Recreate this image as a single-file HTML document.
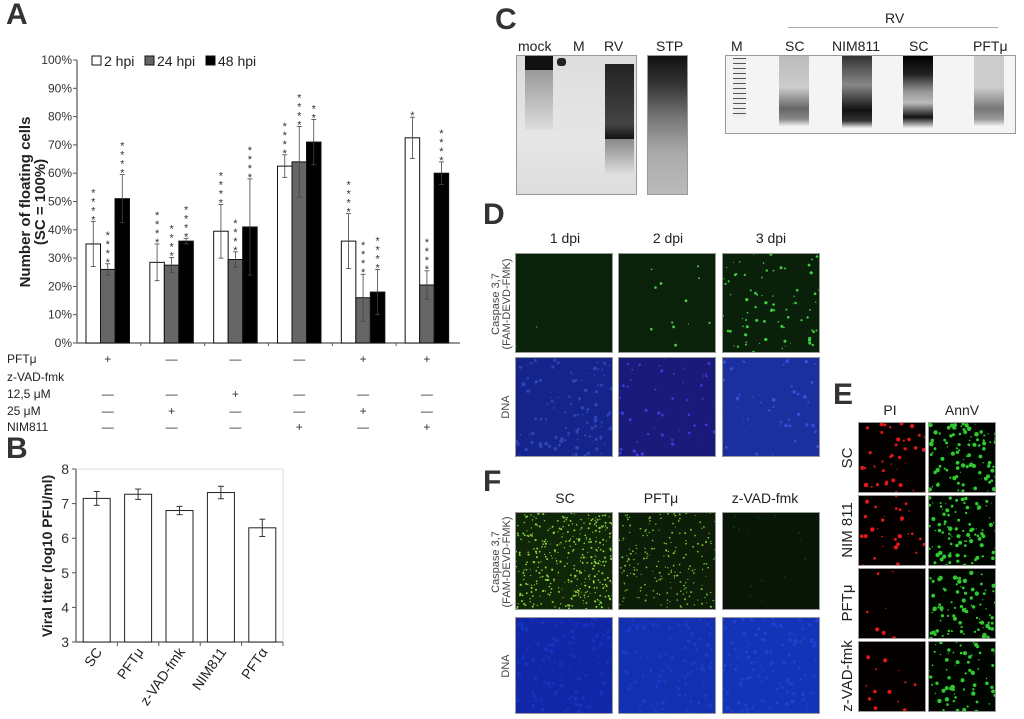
<!DOCTYPE html>
<html><head><meta charset="utf-8"><style>
body{margin:0;width:1024px;height:719px;background:#fff;position:relative;overflow:hidden;font-family:"Liberation Sans",sans-serif;color:#222}
.abs{position:absolute}
.pl{position:absolute;font-weight:bold;font-size:30px;color:#333}
.lbl{position:absolute;font-size:14px;text-align:center;color:#222}
.img{position:absolute;border:1px solid #999;box-sizing:border-box;overflow:hidden}
</style></head><body>
<div class="pl" style="left:6px;top:-2px">A</div>
<div class="pl" style="left:6px;top:432px">B</div>
<div class="pl" style="left:495px;top:3px">C</div>
<div class="pl" style="left:483px;top:198px">D</div>
<div class="pl" style="left:833px;top:378px">E</div>
<div class="pl" style="left:483px;top:465px">F</div>

<svg id="chartA" class="abs" style="left:0;top:0" width="480" height="440"></svg>
<svg id="chartB" class="abs" style="left:0;top:420px" width="300" height="299"></svg>

<!-- Panel C -->
<div class="lbl" style="left:518px;top:38px">mock</div>
<div class="lbl" style="left:573px;top:38px">M</div>
<div class="lbl" style="left:604px;top:38px">RV</div>
<div class="lbl" style="left:656px;top:38px">STP</div>
<div class="img" style="left:516px;top:55px;width:121px;height:140px;background:linear-gradient(#ddd,#e6e6e6 60%,#ddd)">
  <div class="abs" style="left:8px;top:0;width:28px;height:14px;background:#111"></div>
  <div class="abs" style="left:8px;top:14px;width:28px;height:60px;background:linear-gradient(#999,#ddd)"></div>
  <div class="abs" style="left:40px;top:2px;width:9px;height:8px;background:#222;border-radius:3px"></div>
  <div class="abs" style="left:88px;top:8px;width:29px;height:75px;background:linear-gradient(#222,#444 80%,#111)"></div>
  <div class="abs" style="left:88px;top:83px;width:29px;height:35px;background:linear-gradient(#888,#ddd)"></div>
</div>
<div class="img" style="left:647px;top:55px;width:41px;height:140px;background:linear-gradient(#111,#333 20%,#777 45%,#aaa 70%,#bbb)"></div>
<div class="lbl" style="left:885px;top:10px">RV</div>
<div class="abs" style="left:788px;top:27px;width:210px;height:1px;background:#aaa"></div>
<div class="lbl" style="left:731px;top:38px">M</div>
<div class="lbl" style="left:785px;top:38px">SC</div>
<div class="lbl" style="left:832px;top:38px">NIM811</div>
<div class="lbl" style="left:909px;top:38px">SC</div>
<div class="lbl" style="left:973px;top:38px">PFTμ</div>
<div class="img" style="left:725px;top:55px;width:291px;height:79px;background:#f4f4f4">
  <div class="abs" style="left:7px;top:2px;width:13px;height:60px;background:repeating-linear-gradient(#555 0 1px,#eee 1px 5px)"></div>
  <div class="abs" style="left:53px;top:0;width:30px;height:70px;background:linear-gradient(#bbb,#ccc 45%,#666 75%,#888 90%,#eee)"></div>
  <div class="abs" style="left:116px;top:0;width:30px;height:72px;background:linear-gradient(#333,#888 40%,#111 75%,#333 90%,#eee)"></div>
  <div class="abs" style="left:177px;top:0;width:30px;height:72px;background:linear-gradient(#000,#222 25%,#999 50%,#bbb 65%,#111 85%,#eee)"></div>
  <div class="abs" style="left:248px;top:0;width:30px;height:70px;background:linear-gradient(#ccc,#ccc 45%,#777 75%,#999 90%,#eee)"></div>
</div>

<!-- Panel D / F / E labels -->
<div class="lbl" style="left:540px;top:230px;width:50px">1 dpi</div>
<div class="lbl" style="left:643px;top:230px;width:50px">2 dpi</div>
<div class="lbl" style="left:746px;top:230px;width:50px">3 dpi</div>
<div class="lbl" style="left:545px;top:490px;width:40px">SC</div>
<div class="lbl" style="left:641px;top:490px;width:40px">PFTμ</div>
<div class="lbl" style="left:725px;top:490px;width:80px">z-VAD-fmk</div>
<div class="lbl" style="left:870px;top:402px;width:40px">PI</div>
<div class="lbl" style="left:940px;top:402px;width:44px">AnnV</div>

<div id="imgs"></div>

<svg class="abs" style="left:0;top:0;pointer-events:none" width="1024" height="719">
 <text transform="translate(499,304) rotate(-90)" text-anchor="middle" font-size="11" fill="#444"><tspan x="0" dy="0">Caspase 3,7</tspan><tspan x="0" dy="11">(FAM-DEVD-FMK)</tspan></text>
 <text transform="translate(509,407) rotate(-90)" text-anchor="middle" font-size="11" fill="#444">DNA</text>
 <text transform="translate(499,562) rotate(-90)" text-anchor="middle" font-size="11" fill="#444"><tspan x="0" dy="0">Caspase 3,7</tspan><tspan x="0" dy="11">(FAM-DEVD-FMK)</tspan></text>
 <text transform="translate(509,666) rotate(-90)" text-anchor="middle" font-size="11" fill="#444">DNA</text>
 <text transform="translate(852,458) rotate(-90)" text-anchor="middle" font-size="15" fill="#222">SC</text>
 <text transform="translate(852,530) rotate(-90)" text-anchor="middle" font-size="15" fill="#222">NIM 811</text>
 <text transform="translate(852,603) rotate(-90)" text-anchor="middle" font-size="15" fill="#222">PFTμ</text>
 <text transform="translate(852,676) rotate(-90)" text-anchor="middle" font-size="15" fill="#222">z-VAD-fmk</text>
</svg>

<script>
// ---------- Panel A ----------
const groupsA = ["g1","g2","g3","g4","g5","g6"];
const seriesNames = ["2 hpi","24 hpi","48 hpi"];
const v2h = [35,28.5,39.5,62.5,36,72.5];
const v24h = [26,27.5,29.5,64,16,20.5];
const v48h = [51,36,41,71,18,60];
const e2h = [8,6.5,9.5,4,9.7,7.3];
const e24h = [2,2.7,2.7,12.5,8.3,5];
const e48h = [8.5,1,17,8,8,4];
const stars2h = [4,4,4,4,4,1];
const stars24h = [4,4,4,4,4,4];
const stars48h = [4,4,4,2,4,4];
const yTicksA = [0,10,20,30,40,50,60,70,80,90,100];
const condRows = ["PFTμ","z-VAD-fmk","12,5 μM","25  μM","NIM811"];
const condPFT = ["+","—","—","—","+","+"];
const cond125 = ["—","—","+","—","—","—"];
const cond25 = ["—","+","—","—","+","—"];
const condNIM = ["—","—","—","+","—","+"];

const NS="http://www.w3.org/2000/svg";
function mk(svg,tag,attrs,name){const e=document.createElementNS(NS,tag);for(const k in attrs)e.setAttribute(k,attrs[k]);


svg.appendChild(e);return e;}

(function(){
const svg=document.getElementById('chartA');
const x0=77,x1=460,yB=343,yT=60;
const yA=v=>yB-(v/100)*(yB-yT);
const gw=(x1-x0)/groupsA.length, bw=14.5;
const gx=i=>x0+9+i*gw;
mk(svg,'line',{x1:x0,y1:yT,x2:x0,y2:yB,stroke:'#555','stroke-width':1.2},'y-axis');
mk(svg,'line',{x1:x0,y1:yB,x2:x1,y2:yB,stroke:'#555','stroke-width':1.2},'x-axis');
yTicksA.forEach(t=>{
 mk(svg,'line',{x1:x0-4,y1:yA(t),x2:x0,y2:yA(t),stroke:'#555'},'y-tick');
 const tx=mk(svg,'text',{x:x0-5,y:yA(t)+4,'text-anchor':'end','font-size':12,fill:'#333'},'y-tick-label');tx.textContent=t+'%';
});
groupsA.forEach((g,i)=>{ if(i>0) mk(svg,'line',{x1:x0+i*gw,y1:yB,x2:x0+i*gw,y2:yB+3,stroke:'#555'},'x-tick'); });
const yl=mk(svg,'text',{transform:'translate(30,202) rotate(-90)','text-anchor':'middle','font-size':15,'font-weight':'bold',fill:'#222'},'y-axis-title');
yl.innerHTML='<tspan x="0" dy="0">Number of floating cells</tspan><tspan x="0" dy="15">(SC = 100%)</tspan>';
const sets=[[v2h,e2h,stars2h,'#fff','bar-2hpi'],[v24h,e24h,stars24h,'#666','bar-24hpi'],[v48h,e48h,stars48h,'#000','bar-48hpi']];
sets.forEach((s,si)=>{
 s[0].forEach((v,i)=>{
  const x=gx(i)+si*bw;
  mk(svg,'rect',{x:x,y:yA(v),width:bw,height:yB-yA(v),fill:s[3],stroke:'#111','stroke-width':1},s[4]);
  const cx=x+bw/2,ht=yA(v+s[1][i]),hb=yA(v-s[1][i]);
  mk(svg,'line',{x1:cx,y1:ht,x2:cx,y2:hb,stroke:'#444','stroke-width':0.8},'error-bar');
  mk(svg,'line',{x1:cx-2.5,y1:ht,x2:cx+2.5,y2:ht,stroke:'#444','stroke-width':0.8},'error-cap');
  mk(svg,'line',{x1:cx-2.5,y1:hb,x2:cx+2.5,y2:hb,stroke:'#444','stroke-width':0.8},'error-cap');
  for(let k=0;k<s[2][i];k++){const st=mk(svg,'text',{x:cx,y:ht+2-k*9,'text-anchor':'middle','font-size':11,fill:'#333'},'significance-star');st.textContent='*';}
 });
});
const lx=[92,145,206];const lc=['#fff','#666','#000'];
seriesNames.forEach((n,i)=>{
 mk(svg,'rect',{x:lx[i],y:56,width:9,height:9,fill:lc[i],stroke:'#111'},'legend-swatch');
 const t=mk(svg,'text',{x:lx[i]+12,y:66,'font-size':14,fill:'#222'},'legend-entry');t.textContent=n;
});
const rowsY=[359,377,394,411,427];
condRows.forEach((r,ri)=>{const t=mk(svg,'text',{x:7,y:rowsY[ri]+4,'font-size':12,fill:'#222'},'condition-row-label');t.textContent=r;});
[[condPFT,0],[cond125,2],[cond25,3],[condNIM,4]].forEach(([arr,ri])=>{
 arr.forEach((c,i)=>{const t=mk(svg,'text',{x:gx(i)+1.5*bw,y:rowsY[ri]+4,'text-anchor':'middle','font-size':12,fill:'#333'},'condition-mark');t.textContent=c;});
});
})();

// ---------- Panel B ----------
const catsB = ["SC","PFTμ","z-VAD-fmk","NIM811","PFTα"];
const valsB = [7.15,7.27,6.8,7.32,6.3];
const errB = [0.2,0.15,0.12,0.18,0.25];
const yTicksB = [3,4,5,6,7,8];
(function(){
const svg=document.getElementById('chartB');
const x0=76,x1=283,yB=222,yT=49;
const yS=v=>yB-(v-3)/5*(yB-yT);
const step=(x1-x0)/catsB.length,bw=27;
mk(svg,'line',{x1:x0,y1:yT,x2:x0,y2:yB,stroke:'#555','stroke-width':1.2},'y-axis');
mk(svg,'line',{x1:x0,y1:yB,x2:x1,y2:yB,stroke:'#555','stroke-width':1.2},'x-axis');
mk(svg,'line',{x1:x0,y1:yT,x2:x1,y2:yT,stroke:'#ddd'},'plot-border-top');
mk(svg,'line',{x1:x1,y1:yT,x2:x1,y2:yB,stroke:'#ddd'},'plot-border-right');
yTicksB.forEach(t=>{
 mk(svg,'line',{x1:x0-4,y1:yS(t),x2:x0,y2:yS(t),stroke:'#555'},'y-tick');
 const tx=mk(svg,'text',{x:x0-7,y:yS(t)+5,'text-anchor':'end','font-size':14,fill:'#333'},'y-tick-label');tx.textContent=t;
});
const yl=mk(svg,'text',{transform:'translate(52,136) rotate(-90)','text-anchor':'middle','font-size':14,'font-weight':'bold',fill:'#222'},'y-axis-title');yl.textContent='Viral titer (log10 PFU/ml)';
catsB.forEach((c,i)=>{
 const cx=x0+step*(i+0.5);
 mk(svg,'rect',{x:cx-bw/2,y:yS(valsB[i]),width:bw,height:yB-yS(valsB[i]),fill:'#fff',stroke:'#222'},'bar-'+i);
 const ht=yS(valsB[i]+errB[i]),hb=yS(valsB[i]-errB[i]);
 mk(svg,'line',{x1:cx,y1:ht,x2:cx,y2:hb,stroke:'#333'},'error-bar');
 mk(svg,'line',{x1:cx-3,y1:ht,x2:cx+3,y2:ht,stroke:'#333'},'error-cap');
 mk(svg,'line',{x1:cx-3,y1:hb,x2:cx+3,y2:hb,stroke:'#333'},'error-cap');
 mk(svg,'line',{x1:x0+step*(i+1),y1:yB,x2:x0+step*(i+1),y2:yB+4,stroke:'#555'},'x-tick');
 const t=mk(svg,'text',{transform:`translate(${cx+6},${yB+10}) rotate(-55)`,'text-anchor':'end','font-size':14,fill:'#222'},'x-tick-label');t.textContent=c;
});
})();

// ---------- Microscopy images ----------
let seed=7;function rnd(){seed=(seed*16807)%2147483647;return seed/2147483647;}
const cont=document.getElementById('imgs');
function panel(x,y,w,h,bg,dot,n,rmax,name){
 const d=document.createElement('div');d.className='img';
 d.style.cssText=`left:${x}px;top:${y}px;width:${w}px;height:${h}px;background:${bg}`;
 
 
 let s=`<svg width="${w}" height="${h}">`;
 for(let i=0;i<n;i++){s+=`<circle cx="${(rnd()*w).toFixed(1)}" cy="${(rnd()*h).toFixed(1)}" r="${(0.5+rnd()*rmax).toFixed(1)}" fill="${dot}"/>`;}
 d.innerHTML=s+'</svg>';cont.appendChild(d);
}
const cols=[515,618,722],cw=98;
panel(cols[0],253,cw,100,'#0a220a','#3c8a3c',2,0.8,'d-caspase-1dpi');
panel(cols[1],253,cw,100,'#0a220a','#4ccc4c',12,1,'d-caspase-2dpi');
panel(cols[2],253,cw,100,'#0a200a','#3ed03e',80,1.1,'d-caspase-3dpi');
panel(cols[0],357,cw,100,'#14248a','#2a44b8',120,1.6,'d-dna-1dpi');
panel(cols[1],357,cw,100,'#1a1a7a','#3b3bd8',50,1.3,'d-dna-2dpi');
panel(cols[2],357,cw,100,'#1b2f9e','#3550d8',50,1.5,'d-dna-3dpi');
panel(cols[0],512,cw,98,'#0f2608','#8cd43a',400,0.6,'f-caspase-sc');
panel(cols[1],512,cw,98,'#0c1e08','#74c030',220,0.5,'f-caspase-pftmu');
panel(cols[2],512,cw,98,'#081608','#1a3a1a',20,0.5,'f-caspase-zvad');
panel(cols[0],617,cw,97,'#1028a8','#1832c0',150,1.5,'f-dna-sc');
panel(cols[1],617,cw,97,'#1230b0','#1c3ac8',150,1.5,'f-dna-pftmu');
panel(cols[2],617,cw,97,'#1434b8','#2040d0',150,1.5,'f-dna-zvad');
const eRows=[422,495,568,641],eN=[[40,110],[30,100],[8,90],[14,70]],eNames=['sc','nim811','pftmu','zvad'];
eRows.forEach((y,i)=>{
 panel(858,y,68,71,'#050000','#e01818',eN[i][0],1.8,'e-pi-'+eNames[i]);
 panel(928,y,68,71,'#000500','#30c830',eN[i][1],1.8,'e-annv-'+eNames[i]);
});
</script>
</body></html>
